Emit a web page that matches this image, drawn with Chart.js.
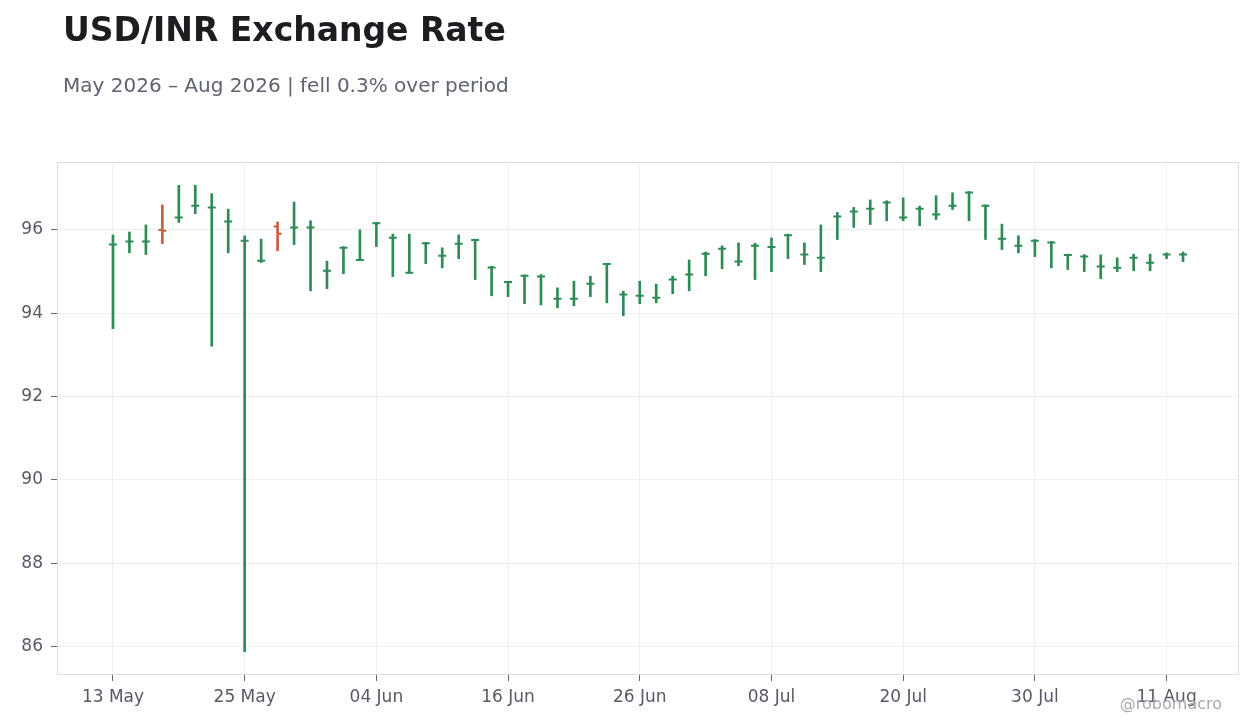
<!DOCTYPE html>
<html>
<head>
<meta charset="utf-8">
<script src="https://cdn.jsdelivr.net/npm/chart.js@4.4.1/dist/chart.umd.min.js"></script>
<style>
  html, body { margin: 0; padding: 0; background: #ffffff; }
  #wrap { position: relative; width: 1260px; height: 728px; font-family: "DejaVu Sans", sans-serif; }
  #chart { position: absolute; left: 0; top: 0; }
  .title { position: absolute; left: 63px; top: 13px; font-size: 33px; line-height: 1; font-weight: bold; color: #1c1c21; white-space: nowrap; }
  .subtitle { position: absolute; left: 63px; top: 75px; font-size: 20px; line-height: 1; color: #5f6270; white-space: nowrap; }
  .mark { position: absolute; right: 38px; top: 696px; font-size: 16px; line-height: 1; color: #a9a9ae; white-space: nowrap; }
</style>
</head>
<body>
<div id="wrap">
  <canvas id="chart" width="1260" height="728"></canvas>
  <div class="title">USD/INR Exchange Rate</div>
  <div class="subtitle">May 2026 – Aug 2026 | fell 0.3% over period</div>
  <div class="mark">@robomacro</div>
</div>
<script>
// trading days, one bar each
const dates = [
  '13 May', '14 May', '15 May', '18 May', '19 May', '20 May', '21 May', '22 May', '25 May', '26 May', '27 May', '28 May', '29 May',
  '01 Jun', '02 Jun', '03 Jun', '04 Jun', '05 Jun', '08 Jun', '09 Jun', '10 Jun', '11 Jun', '12 Jun', '15 Jun', '16 Jun',
  '17 Jun', '18 Jun', '19 Jun', '22 Jun', '23 Jun', '24 Jun', '25 Jun', '26 Jun', '29 Jun', '30 Jun',
  '01 Jul', '02 Jul', '03 Jul', '06 Jul', '07 Jul', '08 Jul', '09 Jul', '10 Jul', '13 Jul', '14 Jul', '15 Jul', '16 Jul',
  '17 Jul', '20 Jul', '21 Jul', '22 Jul', '23 Jul', '24 Jul', '27 Jul', '28 Jul', '29 Jul', '30 Jul', '31 Jul',
  '03 Aug', '04 Aug', '05 Aug', '06 Aug', '07 Aug', '10 Aug', '11 Aug', '12 Aug'
];

const highs = [
  95.88, 95.95, 96.12, 96.60, 97.07, 97.07, 96.87, 96.50, 95.86, 95.78, 96.19, 96.67,
  96.22, 95.25, 95.60, 96.00, 96.18, 95.90, 95.90, 95.70, 95.57, 95.88, 95.78,
  95.13, 94.77, 94.92, 94.93, 94.61, 94.77, 94.89, 95.20, 94.53, 94.77, 94.70, 94.89,
  95.28, 95.47, 95.62, 95.69, 95.68, 95.81, 95.90, 95.69, 96.12, 96.42, 96.54, 96.72,
  96.70, 96.77, 96.57, 96.82, 96.89, 96.92, 96.60, 96.14, 95.86, 95.77, 95.72,
  95.42, 95.41, 95.40, 95.33, 95.42, 95.42, 95.45, 95.47
];
const lows = [
  93.63, 95.45, 95.41, 95.67, 96.18, 96.39, 93.21, 95.45, 85.88, 95.22, 95.50, 95.65,
  94.54, 94.59, 94.95, 95.28, 95.60, 94.88, 94.96, 95.19, 95.09, 95.31, 94.81,
  94.42, 94.40, 94.23, 94.20, 94.13, 94.18, 94.40, 94.25, 93.94, 94.23, 94.25, 94.47,
  94.54, 94.90, 95.07, 95.14, 94.81, 95.00, 95.31, 95.17, 95.00, 95.77, 96.06, 96.13,
  96.22, 96.22, 96.10, 96.25, 96.49, 96.22, 95.77, 95.53, 95.45, 95.36, 95.09,
  95.05, 95.00, 94.83, 95.00, 95.02, 95.02, 95.31, 95.24
];
const closes = [
  95.65, 95.72, 95.72, 95.98, 96.30, 96.58, 96.54, 96.20, 95.74, 95.26, 95.91, 96.06,
  96.06, 95.02, 95.57, 95.28, 96.16, 95.81, 94.97, 95.68, 95.38, 95.67, 95.76,
  95.10, 94.75, 94.90, 94.88, 94.35, 94.35, 94.71, 95.18, 94.45, 94.42, 94.37, 94.81,
  94.93, 95.43, 95.55, 95.24, 95.62, 95.59, 95.87, 95.41, 95.33, 96.32, 96.44, 96.51,
  96.66, 96.30, 96.51, 96.37, 96.58, 96.90, 96.58, 95.79, 95.62, 95.74, 95.70,
  95.40, 95.36, 95.12, 95.09, 95.33, 95.21, 95.41, 95.41
];
const opens = [
  95.65, 95.72, 95.72, 96.00, 96.30, 96.58, 96.54, 96.20, 95.74, 95.26, 96.08, 96.06,
  96.06, 95.02, 95.57, 95.28, 96.16, 95.81, 94.97, 95.68, 95.38, 95.67, 95.76,
  95.10, 94.75, 94.90, 94.88, 94.35, 94.35, 94.71, 95.18, 94.45, 94.42, 94.37, 94.81,
  94.93, 95.43, 95.55, 95.24, 95.62, 95.59, 95.87, 95.41, 95.33, 96.32, 96.44, 96.51,
  96.66, 96.30, 96.51, 96.37, 96.58, 96.90, 96.58, 95.79, 95.62, 95.74, 95.70,
  95.40, 95.36, 95.12, 95.09, 95.33, 95.21, 95.41, 95.41
];

const xTicks = [0, 8, 16, 24, 32, 40, 48, 56, 64];
const yTicks = [86, 88, 90, 92, 94, 96];

const UP = '#2e8b57';
const DOWN = '#c8603c';
const barColor = closes.map((c, i) => (c >= opens[i] ? UP : DOWN));

// open tick on the left, close tick on the right
const ohlcTicks = {
  id: 'ohlcTicks',
  afterDatasetsDraw(chart) {
    const { ctx, scales: { x, y } } = chart;
    ctx.save();
    ctx.lineWidth = 2;
    closes.forEach((c, i) => {
      const px = x.getPixelForValue(i);
      const po = y.getPixelForValue(opens[i]);
      const pc = y.getPixelForValue(c);
      ctx.strokeStyle = barColor[i];
      ctx.beginPath();
      ctx.moveTo(px - 4, po);
      ctx.lineTo(px, po);
      ctx.moveTo(px, pc);
      ctx.lineTo(px + 4, pc);
      ctx.stroke();
    });
    ctx.restore();
  }
};

const frame = {
  id: 'frame',
  afterDraw(chart) {
    const { ctx, chartArea: a } = chart;
    ctx.save();
    ctx.strokeStyle = '#dddddd';
    ctx.lineWidth = 1;
    ctx.strokeRect(a.left + 0.5, a.top + 0.5, a.width - 1, a.height - 1);
    ctx.restore();
  }
};

const tickFont = { family: 'DejaVu Sans', size: 17 };

new Chart(document.getElementById('chart'), {
  type: 'bar',
  data: {
    datasets: [{
      label: 'USD/INR',
      data: lows.map((l, i) => ({ x: i, y: [l, highs[i]] })),
      backgroundColor: barColor,
      borderWidth: 0,
      barThickness: 2,
      grouped: false
    }]
  },
  options: {
    responsive: false,
    animation: false,
    layout: { padding: { top: 162, right: 21, bottom: 0, left: 0 } },
    plugins: { legend: { display: false }, tooltip: { enabled: false } },
    scales: {
      x: {
        type: 'linear',
        offset: false,
        min: -3.4,
        max: 68.4,
        afterBuildTicks: (s) => { s.ticks = xTicks.map(v => ({ value: v })); },
        afterFit: (s) => { s.height = 53; },
        ticks: {
          color: '#555a66',
          font: tickFont,
          padding: 6,
          maxRotation: 0,
          callback: (v) => dates[v]
        },
        grid: { offset: false, color: '#efefef', tickColor: '#666666', tickLength: 6 },
        border: { display: false }
      },
      y: {
        min: 85.32,
        max: 97.63,
        afterBuildTicks: (s) => { s.ticks = yTicks.map(v => ({ value: v })); },
        afterFit: (s) => { s.width = 57; },
        ticks: { color: '#555a66', font: tickFont, padding: 8 },
        grid: { color: '#efefef', tickColor: '#666666', tickLength: 6 },
        border: { display: false }
      }
    }
  },
  plugins: [ohlcTicks, frame]
});
</script>
</body>
</html>
